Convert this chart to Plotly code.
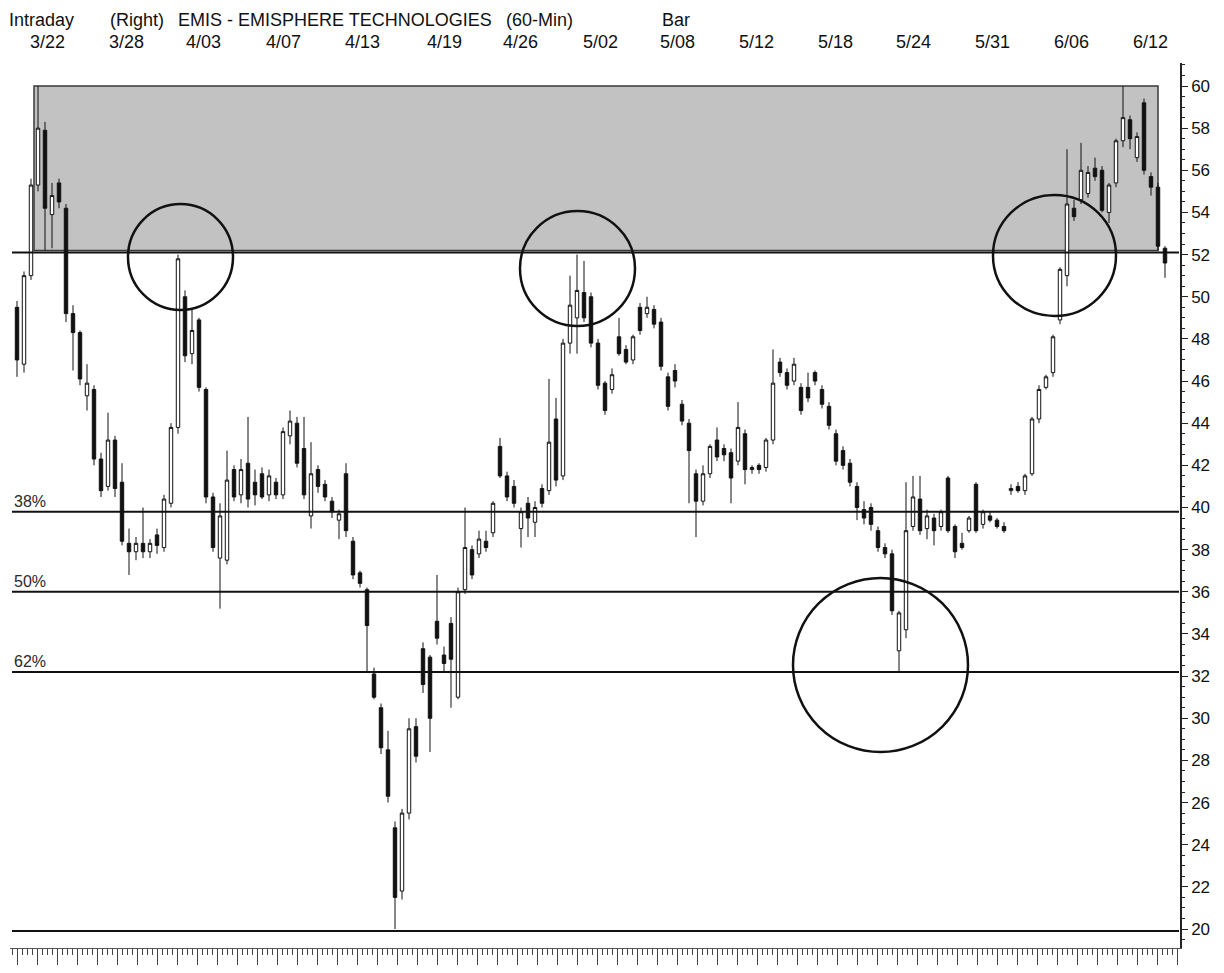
import plotly.graph_objects as go

# ---------------- data ----------------
opens = [49.5, 46.8, 51.0, 55.3, 57.9, 53.9, 55.4, 54.2, 49.2, 48.3,
         45.3, 45.6, 42.3, 41.0, 43.2, 41.2, 38.3, 37.9, 38.3, 37.9,
         38.7, 38.1, 40.2, 43.8, 50.0, 47.3, 48.9, 45.6, 40.5, 37.6,
         37.5, 41.8, 40.6, 42.1, 41.2, 41.6, 40.6, 41.2, 40.6, 43.4,
         44.0, 42.8, 39.6, 41.8, 41.1, 40.3, 39.4, 41.6, 38.4, 36.9,
         36.1, 32.1, 30.5, 28.5, 24.8, 21.8, 25.5, 29.6, 33.3, 32.9,
         34.6, 33.0, 34.5, 31.0, 36.1, 38.0, 37.8, 38.4, 38.8, 42.9,
         41.5, 41.0, 39.0, 40.2, 39.3, 40.9, 40.8, 44.2, 41.5, 47.8,
         49.0, 50.2, 50.0, 47.8, 45.9, 45.6, 48.1, 47.5, 47.0, 49.5,
         49.2, 49.4, 48.8, 46.2, 46.5, 44.9, 44.0, 41.6, 40.3, 41.6,
         43.2, 42.8, 42.6, 42.2, 43.5, 41.8, 42.0, 41.9, 43.2, 46.9,
         46.4, 46.0, 45.7, 45.7, 46.4, 45.6, 44.8, 43.5, 42.7, 42.1,
         41.0, 39.9, 40.0, 38.9, 38.1, 37.8, 33.2, 34.2, 39.1, 40.4,
         39.0, 39.5, 39.1, 41.4, 39.1, 38.3, 38.9, 41.1, 39.2, 39.6,
         39.4, 39.1, 40.8, 41.0, 40.8, 41.6, 44.2, 45.7, 46.4, 48.9,
         51.0, 54.2, 54.6, 54.9, 56.1, 56.0, 54.0, 55.4, 57.4, 58.4,
         56.6, 59.2, 55.7, 55.2, 52.3]

highs = [49.8, 51.2, 55.6, 60.0, 58.3, 55.4, 55.6, 54.4, 49.6, 48.4,
         46.8, 45.8, 42.6, 44.5, 43.4, 42.1, 39.0, 38.6, 40.0, 38.5,
         39.0, 40.6, 44.0, 52.0, 50.3, 49.4, 49.0, 45.7, 40.7, 40.2,
         42.7, 42.0, 42.3, 44.3, 41.8, 41.9, 41.8, 41.4, 43.8, 44.6,
         44.3, 44.3, 43.1, 42.0, 41.3, 40.5, 39.9, 42.1, 38.6, 37.0,
         36.2, 32.4, 30.7, 29.4, 25.1, 25.7, 30.0, 30.0, 33.6, 33.0,
         36.8, 33.4, 34.8, 36.2, 40.0, 38.2, 38.9, 38.9, 40.3, 43.3,
         41.7, 41.3, 40.0, 40.5, 40.3, 41.1, 46.1, 45.2, 48.0, 51.0,
         52.0, 51.7, 50.2, 48.0, 46.0, 46.6, 49.0, 47.7, 48.2, 49.7,
         50.0, 49.6, 49.0, 46.4, 46.8, 45.1, 44.2, 41.8, 42.0, 43.0,
         43.8, 43.0, 42.8, 45.0, 43.7, 42.0, 42.1, 43.3, 47.5, 47.1,
         46.6, 47.1, 45.9, 46.4, 46.5, 45.8, 45.0, 43.7, 42.9, 42.3,
         41.2, 40.3, 40.2, 39.1, 38.3, 38.0, 35.1, 41.2, 41.5, 41.5,
         39.9, 39.7, 39.9, 41.5, 39.2, 38.8, 39.6, 41.2, 39.9, 39.8,
         39.5, 39.3, 41.1, 41.2, 41.6, 44.3, 45.8, 46.3, 48.2, 51.4,
         57.0, 54.6, 57.3, 56.2, 56.6, 56.2, 55.4, 57.5, 60.0, 58.6,
         57.8, 59.4, 55.9, 55.4, 52.4]

lows = [46.2, 46.4, 50.8, 55.0, 52.2, 52.3, 54.2, 48.8, 46.5, 45.8,
        44.6, 42.0, 40.5, 40.8, 40.5, 38.2, 36.8, 37.5, 37.6, 37.6,
        37.8, 37.9, 40.0, 43.5, 46.9, 46.8, 45.5, 40.2, 37.9, 35.2,
        37.3, 40.3, 40.2, 40.0, 40.1, 40.4, 40.3, 40.4, 40.4, 43.0,
        41.9, 40.4, 39.0, 40.7, 40.3, 39.5, 38.5, 38.6, 36.6, 36.2,
        32.2, 30.9, 28.3, 26.0, 20.0, 21.4, 25.2, 27.9, 31.2, 28.4,
        33.5, 32.2, 30.5, 30.9, 35.9, 36.6, 37.6, 37.9, 38.6, 41.4,
        40.3, 40.0, 38.1, 38.6, 38.6, 40.0, 40.6, 41.0, 41.3, 47.3,
        47.3, 48.8, 47.6, 45.6, 44.4, 45.4, 47.2, 46.8, 46.8, 48.2,
        49.0, 48.5, 46.5, 44.6, 45.7, 43.9, 40.2, 38.6, 40.1, 41.4,
        42.2, 42.2, 40.2, 42.0, 41.1, 41.6, 41.6, 41.7, 43.0, 46.2,
        45.6, 45.8, 44.4, 45.0, 45.8, 44.7, 43.7, 42.0, 41.8, 41.0,
        39.4, 39.2, 38.9, 37.9, 37.6, 34.9, 32.2, 33.8, 38.9, 38.7,
        38.5, 38.2, 38.9, 38.8, 37.6, 38.0, 38.8, 38.8, 39.0, 39.3,
        39.0, 38.8, 40.6, 40.7, 40.6, 41.5, 44.0, 45.6, 46.2, 48.7,
        50.5, 53.6, 54.4, 54.7, 55.5, 54.0, 53.5, 55.2, 57.1, 57.0,
        56.4, 55.8, 54.8, 52.2, 50.9]

closes = [47.0, 51.0, 55.3, 58.0, 54.2, 54.8, 54.5, 49.2, 48.3, 46.1,
          45.9, 42.3, 40.8, 43.2, 40.9, 38.4, 37.9, 38.3, 37.9, 38.3,
          38.2, 40.4, 43.8, 51.8, 47.2, 48.4, 45.7, 40.5, 38.1, 39.6,
          41.3, 40.5, 41.8, 40.4, 40.6, 40.5, 41.5, 40.6, 43.6, 44.1,
          42.1, 40.6, 41.6, 41.0, 40.5, 39.8, 39.7, 38.9, 36.8, 36.4,
          34.4, 31.0, 28.6, 26.3, 21.5, 25.5, 29.5, 28.2, 31.6, 30.0,
          33.8, 32.6, 32.8, 36.0, 38.1, 36.8, 38.5, 38.1, 40.2, 41.5,
          40.5, 40.2, 39.8, 39.5, 40.0, 40.2, 43.1, 41.3, 47.8, 49.6,
          50.3, 49.0, 47.8, 45.8, 44.6, 46.3, 47.3, 46.9, 48.1, 48.4,
          49.5, 48.7, 46.7, 44.8, 46.0, 44.1, 42.7, 40.3, 41.6, 42.9,
          42.4, 42.5, 41.4, 43.8, 41.8, 41.9, 41.8, 43.2, 45.9, 46.4,
          45.8, 46.8, 44.6, 45.2, 46.0, 44.9, 43.9, 42.2, 42.0, 41.2,
          40.0, 39.5, 39.2, 38.1, 37.8, 35.1, 35.0, 38.9, 40.5, 38.9,
          39.6, 38.9, 39.8, 38.9, 37.9, 38.1, 39.5, 38.9, 39.8, 39.4,
          39.1, 38.9, 40.9, 40.8, 41.5, 44.2, 45.6, 46.2, 48.1, 51.3,
          54.4, 53.8, 56.0, 55.9, 55.7, 54.1, 55.3, 57.4, 58.5, 57.5,
          57.6, 56.0, 55.2, 52.4, 51.6]

date_labels = ["3/22", "3/28", "4/03", "4/07", "4/13", "4/19", "4/26", "5/02",
               "5/08", "5/12", "5/18", "5/24", "5/31", "6/06", "6/12"]
date_label_bar = [4.3, 15.7, 26.7, 38.1, 49.3, 61.1, 71.9, 83.3,
                  94.4, 105.6, 116.9, 128.1, 139.3, 150.6, 161.9]

fib_levels = [52.1, 39.8, 36.0, 32.2, 19.9]
fib_labels = ["", "38%", "50%", "62%", ""]

resistance_zone = (52.2, 60.0)
y_ticks = list(range(20, 61, 2))

assert len(opens) == len(highs) == len(lows) == len(closes)
bars = list(range(len(opens)))

# ---------------- geometry helpers (page pixels) ----------------
PAGE_W, PAGE_H = 1224, 973
BODY = 8                                  # default page margin around the figure
W, H = PAGE_W - 2 * BODY, PAGE_H - 2 * BODY
PL, PR, PT, PB = 10, 1180, 63, 948        # plot area in page pixels
BAR0_PX, BAR_PX = 17, 7.0                 # first bar pixel and bar spacing


def paper_x(px):
    return (px - PL) / (PR - PL)


def paper_y(py):
    return (PB - py) / (PB - PT)


def bar_x(px):
    return (px - BAR0_PX) / BAR_PX


Y_PER_PX = 40.0 / (929 - 86)


def val_y(py):
    return 60 - (py - 86) * Y_PER_PX


FONT = "Liberation Sans, Arial, sans-serif"
INK = "#111111"

fig = go.Figure()
fig.add_trace(go.Candlestick(
    x=bars, open=opens, high=highs, low=lows, close=closes,
    increasing=dict(line=dict(color=INK, width=1), fillcolor="white"),
    decreasing=dict(line=dict(color=INK, width=1), fillcolor=INK),
    whiskerwidth=0, showlegend=False, hoverinfo="skip",
))

shapes = []
shapes.append(dict(type="rect", xref="x", yref="y",
                   x0=bar_x(34), x1=bar_x(1158),
                   y0=resistance_zone[0], y1=resistance_zone[1],
                   fillcolor="#c2c2c2", line=dict(color="#3a3a3a", width=1.5),
                   layer="below"))
for lv in fib_levels:
    shapes.append(dict(type="line", xref="paper", yref="y",
                       x0=paper_x(12), x1=paper_x(1179), y0=lv, y1=lv,
                       line=dict(color=INK, width=2)))
circles_px = [(128, 233, 204, 310), (520, 635, 211, 326),
              (793, 968, 578, 752), (993, 1116, 195, 316)]
for (x0, x1, t, b) in circles_px:
    shapes.append(dict(type="circle", xref="x", yref="y",
                       x0=bar_x(x0), x1=bar_x(x1), y0=val_y(b), y1=val_y(t),
                       line=dict(color=INK, width=2.5)))

annotations = []
for lbl, lv in zip(fib_labels, fib_levels):
    if lbl:
        annotations.append(dict(text=lbl, xref="paper", yref="y",
                                x=paper_x(12), y=lv, xanchor="left",
                                yanchor="bottom", yshift=0, showarrow=False,
                                font=dict(family=FONT, size=16, color="#2a2a2a")))
for lbl, b in zip(date_labels, date_label_bar):
    annotations.append(dict(text=lbl, xref="x", yref="paper",
                            x=b, y=paper_y(42), xanchor="center", yanchor="middle",
                            showarrow=False,
                            font=dict(family=FONT, size=18, color=INK)))
header = [("Intraday", 41, "center"), ("(Right)", 137, "center"),
          ("EMIS - EMISPHERE TECHNOLOGIES", 176, "left"),
          ("(60-Min)", 504, "left"), ("Bar", 676, "center")]
for txt, px, anc in header:
    annotations.append(dict(text=txt, xref="paper", yref="paper",
                            x=paper_x(px), y=paper_y(20), xanchor=anc,
                            yanchor="middle", showarrow=False,
                            font=dict(family=FONT, size=18, color=INK)))

fig.update_layout(
    width=W, height=H,
    margin=dict(l=PL - BODY, r=PAGE_W - PR - BODY, t=PT - BODY,
                b=PAGE_H - PB - BODY, pad=0, autoexpand=False),
    paper_bgcolor="white", plot_bgcolor="white",
    font=dict(family=FONT, color=INK),
    shapes=shapes, annotations=annotations,
    showlegend=False,
    xaxis=dict(range=[bar_x(PL), bar_x(PR)], rangeslider=dict(visible=False),
               automargin=False,
               showgrid=False, zeroline=False, showticklabels=False,
               showline=True, linecolor="#555555", linewidth=1,
               ticks="outside", ticklen=22, tickcolor="#444444", tickwidth=1,
               tick0=0, dtick=20 / BAR_PX,
               minor=dict(ticks="outside", ticklen=6, tickcolor="#444444",
                          dtick=5 / BAR_PX, tick0=0)),
    yaxis=dict(side="right", range=[val_y(PB), val_y(PT)],
               automargin=False,
               tickvals=y_ticks, ticktext=[str(v) for v in y_ticks],
               showgrid=False, zeroline=False,
               showline=True, linecolor="#222222", linewidth=1.5,
               ticks="outside", ticklen=6, tickcolor="#222222",
               tickfont=dict(family=FONT, size=17, color=INK),
               minor=dict(ticks="outside", ticklen=3, tickcolor="#222222",
                          dtick=0.5)),
)

fig.write_html("out.html")
